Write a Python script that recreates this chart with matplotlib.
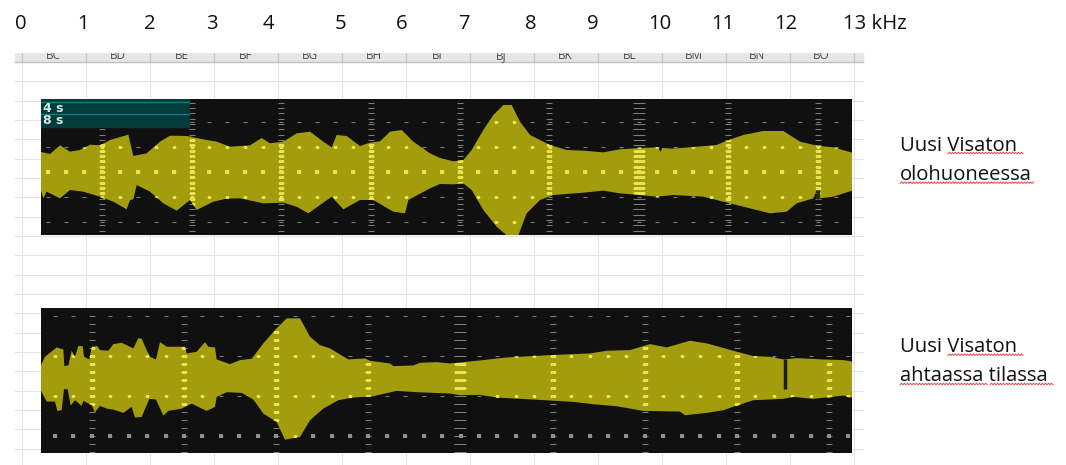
import matplotlib
matplotlib.use('Agg')
import matplotlib.pyplot as plt
import numpy as np
from matplotlib.patches import Rectangle

# ── Data (scope units: 1/3 screen pixel, amplitude measured from the centre line) ──
khz_labels = ['0', '1', '2', '3', '4', '5', '6', '7', '8', '9', '10', '11', '12', '13 kHz']
khz_label_px = [21, 83, 150, 212, 268, 340, 402, 464, 531, 593, 660, 723, 786, 843]
excel_columns = ['BC', 'BD', 'BE', 'BF', 'BG', 'BH', 'BI', 'BJ', 'BK', 'BL', 'BM', 'BN', 'BO']

room_top_x = [0, 27, 57, 87, 117, 147, 177, 207, 262, 277, 317, 357, 387, 437, 497, 527, 567, 627,
              662, 687, 727, 767, 807, 847, 872, 887, 917, 957, 987, 1017, 1047, 1082, 1117, 1167,
              1197, 1237, 1267, 1292, 1327, 1357, 1387, 1412, 1437, 1467, 1527, 1577, 1627, 1687,
              1737, 1797, 1852, 1858, 1864, 1897, 1967, 2027, 2057, 2107, 2167, 2227, 2277, 2327,
              2377, 2433]
room_top_y = [60, 54, 80, 61, 66, 82, 80, 96, 112, 48, 56, 91, 109, 108, 96, 91, 76, 80,
              102, 86, 91, 116, 121, 91, 74, 111, 108, 78, 88, 92, 121, 126, 91, 56,
              42, 32, 36, 66, 126, 171, 201, 201, 151, 111, 81, 66, 64, 59,
              68, 72, 74, 60, 72, 70, 76, 81, 94, 111, 123, 123, 91, 79,
              74, 58]
room_bot_x = [0, 7, 17, 57, 87, 127, 177, 217, 257, 267, 277, 287, 327, 367, 407, 447, 467, 517,
              557, 597, 667, 727, 767, 802, 837, 872, 907, 957, 997, 1057, 1092, 1102, 1167,
              1197, 1237, 1267, 1292, 1327, 1367, 1397, 1432, 1457, 1497, 1537, 1627, 1687, 1737,
              1797, 1847, 1897, 1987, 2047, 2127, 2187, 2237, 2267, 2317, 2327, 2337, 2377, 2433]
room_bot_y = [-56, -79, -59, -79, -54, -59, -74, -89, -112, -84, -82, -39, -59, -94, -116, -84, -114, -89,
              -80, -79, -94, -92, -104, -124, -99, -74, -112, -84, -84, -119, -124, -84, -49,
              -36, -37, -34, -54, -114, -164, -190, -190, -124, -84, -69, -62, -56, -64,
              -69, -74, -69, -74, -89, -109, -124, -119, -94, -79, -54, -79, -74, -56]

small_top_x = [0, 12, 47, 67, 70, 82, 92, 102, 112, 125, 129, 145, 152, 169, 177, 202, 217, 242,
               277, 292, 302, 317, 327, 345, 357, 377, 432, 437, 467, 492, 502, 522, 527, 567,
               597, 632, 667, 702, 737, 777, 807, 837, 867, 922, 972, 987, 1047, 1057, 1117, 1137,
               1187, 1227, 1307, 1397, 1527, 1647, 1697, 1767, 1827, 1877, 1947, 1997, 2027, 2077,
               2137, 2187, 2227, 2267, 2347, 2407, 2433]
small_top_y = [32, 57, 85, 79, 29, 31, 75, 57, 89, 89, 57, 49, 87, 89, 77, 75, 95, 99,
               82, 113, 111, 77, 57, 49, 101, 87, 87, 67, 72, 101, 87, 85, 49, 35,
               47, 51, 97, 137, 172, 172, 117, 92, 82, 49, 52, 45, 37, 29, 31, 39,
               41, 37, 45, 55, 62, 67, 75, 77, 95, 85, 105, 97, 89, 75,
               59, 57, 49, 53, 49, 47, 43]
small_bot_x = [0, 17, 42, 49, 62, 69, 80, 89, 102, 122, 127, 152, 162, 177, 197, 217, 247, 272,
               282, 302, 325, 345, 367, 382, 422, 452, 497, 522, 527, 557, 602, 637, 667, 707,
               732, 777, 807, 847, 892, 937, 997, 1067, 1127, 1227, 1257, 1317, 1367, 1477, 1597,
               1657, 1727, 1807, 1917, 1932, 1997, 2047, 2087, 2137, 2227, 2257, 2317, 2407, 2433]
small_bot_y = [-45, -77, -77, -105, -103, -40, -40, -89, -73, -90, -75, -88, -109, -90, -98, -101, -111, -93,
               -125, -123, -69, -71, -119, -105, -98, -83, -105, -93, -63, -49, -51, -71, -113, -138,
               -191, -183, -133, -98, -73, -65, -61, -45, -49, -53, -58, -57, -65, -71, -78,
               -85, -91, -105, -107, -118, -111, -103, -89, -73, -69, -63, -69, -59, -65]

# dropouts: x, low, high
room_notch = (2330, -80, -54)
small_notch = (2233, -38, 49)

# scope graticule
room_cols = [184, 452, 720, 989, 1257, 1525, 1794, 2062, 2330]
room_rows = [150, 76, 0, -76, -150]
small_cols = [154, 429, 705, 981, 1257, 1535, 1812, 2087, 2365]
small_rows = [180, 60, -60, -180]

BLACK = '#101010'
OLIVE = '#a39d0e'
BRIGHT = '#e9e44e'
GREY = '#7e7e7e'
PX = 0.72  # points per pixel at dpi 100


def draw_scope(ax, top_x, top_y, bot_x, bot_y, cols, rows, col_step, row_step, row_start, wide_col):
    ax.set_facecolor(BLACK)
    ax.set_xticks([])
    ax.set_yticks([])
    for s in ax.spines.values():
        s.set_visible(False)

    y0, y1 = ax.get_ylim()
    col_y = np.arange(-30, 30) * col_step + (col_step / 2 if col_step == 24 else 0)
    col_y = col_y[(col_y > y0) & (col_y < y1)]
    row_x = np.arange(row_start, 2433, row_step)

    marks = []
    for c in cols:
        w = 12 if c == wide_col else 6
        marks.append((np.full(col_y.size, c), col_y, '_', w * PX))
    for r in rows:
        marks.append((row_x, np.full(row_x.size, r), '_', 5 * PX))

    for xs, ys, m, ms in marks:
        ax.plot(xs, ys, ls='none', marker=m, ms=ms, mew=0.75, color=GREY, zorder=2)

    poly = ax.fill(np.r_[top_x, bot_x[::-1]], np.r_[top_y, bot_y[::-1]], color=OLIVE, lw=0, zorder=3)[0]

    for xs, ys, m, ms in marks:
        line, = ax.plot(xs, ys, ls='none', marker=m, ms=ms, mew=0.75, color=BRIGHT, zorder=4)
        line.set_clip_path(poly)


fig = plt.figure(figsize=(10.66, 4.65), dpi=100)
plt.rcParams['font.family'] = ['Open Sans', 'DejaVu Sans']

# ── Spreadsheet background, in screen pixels ──
bg = fig.add_axes([0, 0, 1, 1])
bg.set_xlim(0, 1066)
bg.set_ylim(465, 0)
bg.axis('off')

for i in range(14):
    bg.plot([21.5 + 64 * i] * 2, [52, 465], color='#e3e3e3', lw=0.75)
for i in range(1, 21):
    bg.plot([15, 863], [62 + 19.33 * i] * 2, color='#e3e3e3', lw=0.75)
bg.add_patch(Rectangle((15, 52), 848, 10, color='#e6e6e6', zorder=2))
bg.plot([15, 863], [62, 62], color='#bdbdbd', lw=0.9, zorder=3)
for i in range(14):
    bg.plot([21.5 + 64 * i] * 2, [52, 62], color='#c4c4c4', lw=0.75, zorder=3)
for i, name in enumerate(excel_columns):
    bg.text(53.5 + 64 * i, 55.5, name, ha='center', va='center', fontsize=8.5, color='#4a4a4a', zorder=3)
bg.add_patch(Rectangle((0, 38), 1066, 14, color='white', zorder=4))

for lab, px in zip(khz_labels, khz_label_px):
    ha = 'left' if lab.endswith('kHz') else 'center'
    bg.text(px, 29.3, lab, ha=ha, va='baseline', fontsize=14.6, color='#111111', zorder=5)

side_text = [('Uusi Visaton', 151), ('olohuoneessa', 180), ('Uusi Visaton', 351.7), ('ahtaassa tilassa', 381)]
for txt, y in side_text:
    bg.text(900, y, txt, ha='left', va='baseline', fontsize=14.6, color='#111111', zorder=5)

# spell-check squiggles
squiggles = [(948, 1023, 153), (900, 1034, 182.7), (948, 1023, 354.7), (900, 987, 384), (990, 1053, 384)]
for x0, x1, y in squiggles:
    xs = np.arange(x0, x1 + 1, 1.5)
    ys = y + 0.8 * (-1.0) ** np.arange(xs.size)
    bg.plot(xs, ys, color='#e8484a', lw=0.7, zorder=5)

# ── Scope captures ──
ax1 = fig.add_axes([41 / 1066, (465 - 235) / 465, 811 / 1066, 136 / 465])
ax1.set_xlim(0, 2433)
ax1.set_ylim(-189, 219)
draw_scope(ax1, room_top_x, room_top_y, room_bot_x, room_bot_y,
           room_cols, room_rows, 16, 53.7, 22, 1794)
mid_x = np.arange(22, 2433, 53.7)
ax1.plot(mid_x, np.zeros(mid_x.size), ls='none', marker='s', ms=2.6, mew=0, color=BRIGHT, zorder=5)
ax1.vlines(room_notch[0], room_notch[1], room_notch[2], color='#2a2a10', lw=2.5, zorder=5)

# time-scale overlay in the corner
ax1.add_patch(Rectangle((0, 136), 445, 83, color='#033a3c', zorder=6))
ax1.plot([0, 445], [211, 211], color='#0b7d7b', lw=1, zorder=7)
ax1.plot([0, 445], [174, 174], color='#0b7d7b', lw=1, zorder=7)
ax1.text(6, 190, '4 s', ha='left', va='center', fontsize=9, fontweight='bold',
         family='DejaVu Sans', color='#d8e4e4', zorder=7)
ax1.text(6, 154, '8 s', ha='left', va='center', fontsize=9, fontweight='bold',
         family='DejaVu Sans', color='#d8e4e4', zorder=7)

ax2 = fig.add_axes([41 / 1066, (465 - 453) / 465, 811 / 1066, 145 / 465])
ax2.set_xlim(0, 2433)
ax2.set_ylim(-231, 203)
draw_scope(ax2, small_top_x, small_top_y, small_bot_x, small_bot_y,
           small_cols, small_rows, 24, 55.3, 42, 1257)
sq_x = np.arange(42, 2433, 55.3)
ax2.plot(sq_x, np.full(sq_x.size, -180), ls='none', marker='s', ms=3, mew=0, color='#8f8f8f', zorder=2.5)
ax2.vlines(small_notch[0], small_notch[1], small_notch[2], color='#1c1c10', lw=2.5, zorder=5)

fig.savefig('out.png', dpi=100)
